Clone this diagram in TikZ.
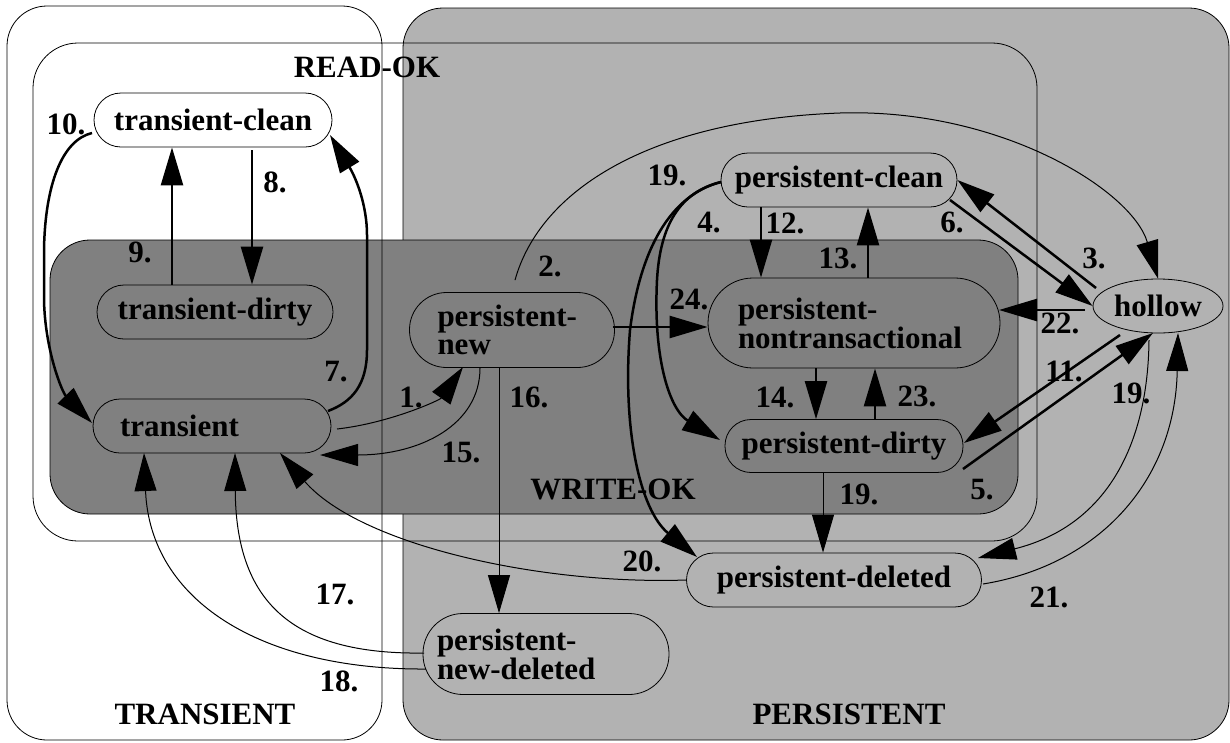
\documentclass[tikz,border=0pt]{standalone}
\usepackage{fontspec}
\setmainfont{Liberation Serif}
\usetikzlibrary{arrows.meta,shapes.geometric,calc}
\definecolor{lightg}{gray}{0.70}
\definecolor{darkg}{gray}{0.50}
\begin{document}
\begin{tikzpicture}[x=1pt,y=-1pt,
  every node/.style={font=\fontsize{31}{28}\selectfont\bfseries},
  stad/.style={draw, line width=0.8pt, inner sep=0pt},
  region/.style={draw, line width=0.8pt, rounded corners=40pt},
  tipstyle/.style={-{Triangle[length=38pt,width=22pt]}},
  fatarr/.style={line width=2.5pt, tipstyle},
  slimarr/.style={line width=1pt, tipstyle}]
\useasboundingbox (0,0) rectangle (1230,742);
\fill[white] (0,0) rectangle (1230,742);
% regions
\fill[white] (7,6) rectangle (382,740);
\draw[region, fill=lightg] (403,8) rectangle (1229,740);
\draw[region, rounded corners=45pt] (33,43) rectangle (1037,541);
\draw[region, fill=darkg] (50,240) rectangle (1018,514);
\draw[region] (7,6) rectangle (382,740);
\node (lro) at (367,67) {READ-OK};
\node (lwo) at (613,489) {WRITE-OK};
\node (ltr) at (205,714) {TRANSIENT};
\node (lpe) at (849,714) {PERSISTENT};
% states
\node[stad, fill=white, rounded corners=27pt, minimum width=238pt, minimum height=54pt] (tc) at (213,120) {transient-clean};
\node[stad, fill=darkg, rounded corners=27pt, minimum width=236pt, minimum height=54pt] (td) at (215,312) {transient-dirty};
\node[stad, fill=darkg, rounded corners=27pt, minimum width=238pt, minimum height=54pt, text width=184pt, align=left] (tr) at (212,426) {transient};
\node[stad, fill=darkg, rounded corners=37pt, minimum width=205pt, minimum height=75pt, text width=149pt, align=left] (pn) at (512,330) {persistent-\\new};
\node[stad, fill=lightg, rounded corners=27pt, minimum width=236pt, minimum height=54pt] (pc) at (839,180) {persistent-clean};
\node[stad, fill=darkg, rounded corners=45pt, minimum width=292pt, minimum height=90pt, text width=232pt, align=left] (pnt) at (854,323) {persistent-\\nontransactional};
\node[stad, fill=darkg, rounded corners=26pt, minimum width=238pt, minimum height=53pt] (pd) at (844,446) {persistent-dirty};
\node[stad, fill=lightg, ellipse, minimum width=130pt, minimum height=54pt] (ho) at (1158,306) {hollow};
\node[stad, fill=lightg, rounded corners=27pt, minimum width=295pt, minimum height=54pt] (pdl) at (834,580) {persistent-deleted};
\node[stad, fill=lightg, rounded corners=40pt, minimum width=246pt, minimum height=81pt, text width=218pt, align=left] (pnd) at (546,654) {persistent-\\new-deleted};
% transitions
\draw[fatarr] ([shift={(39,3)}]tc.south) -- ([shift={(37,0)}]td.north);
\draw[fatarr] ([shift={(-43,0)}]td.north) -- ([shift={(-41,0)}]tc.south);
\draw[fatarr] ([shift={(116,-15)}]tr.center) .. controls (352,402) and (367,385) .. (367,350) -- (367,235) .. controls (367,205) and (356,178) .. ([shift={(117,15)}]tc.center);
\draw[fatarr] ([shift={(-121,13)}]tc.center) .. controls (62,140) and (45,185) .. (44,250) -- (44,300) .. controls (45,350) and (62,392) .. ([shift={(-120,-3)}]tr.center);
\draw[slimarr] ([shift={(125,3)}]tr.center) .. controls (390,423) and (440,400) .. ([shift={(-49,37)}]pn.center);
\draw[slimarr] ([shift={(-32,38)}]pn.center) .. controls (480,425) and (420,455) .. ([shift={(108,29)}]tr.center);
\draw[slimarr] ([shift={(3,-12)}]pn.north) .. controls (540,190) and (650,120) .. (840,113) .. controls (1000,108) and (1132,190) .. (ho.north);
\draw[slimarr] ([shift={(-13,0)}]pn.south) -- ([shift={(-47,0)}]pnd.north);
\draw[slimarr] ([shift={(-122,-1)}]pnd.center) .. controls (290,655) and (236,600) .. ([shift={(23,27)}]tr.center);
\draw[slimarr] ([shift={(-120,15)}]pnd.center) .. controls (260,670) and (150,600) .. ([shift={(-68,27)}]tr.center);
\draw[slimarr] (pdl.west) .. controls (540,585) and (360,545) .. ([shift={(68,27)}]tr.center);
\draw[fatarr] ([shift={(-118,2)}]pc.center) .. controls (670,195) and (640,250) .. (630,330) .. controls (622,430) and (640,510) .. ([shift={(-137,-23)}]pdl.center);
\draw[fatarr] ([shift={(-118,2)}]pc.center) .. controls (680,192) and (660,225) .. (657,280) .. controls (653,360) and (670,410) .. ([shift={(-124,-6)}]pd.center);
\draw[fatarr] ([shift={(-78,0)}]pc.south) -- ([shift={(-93,0)}]pnt.north);
\draw[fatarr] ([shift={(14,0)}]pnt.north) -- ([shift={(29,0)}]pc.south);
\draw[fatarr] ([shift={(-38,0)}]pnt.south) -- ([shift={(-28,0)}]pd.north);
\draw[fatarr] ([shift={(31,0)}]pd.north) -- ([shift={(21,0)}]pnt.south);
\draw[fatarr] ([shift={(-2,-3)}]pn.east) -- ([shift={(0,4)}]pnt.west);
\draw[fatarr] ([shift={(-62,-18)}]ho.center) -- (pc.east);
\draw[fatarr] ([shift={(111,20)}]pc.center) -- (ho.west);
\draw[fatarr] ([shift={(-73,4)}]ho.center) -- ([shift={(145,-13)}]pnt.center);
\draw[fatarr] ([shift={(-38,29)}]ho.center) -- ([shift={(120,-3)}]pd.center);
\draw[fatarr] ([shift={(119,23)}]pd.center) -- ([shift={(-5,27)}]ho.center);
\draw[slimarr] ([shift={(-9,34)}]ho.center) .. controls (1148,440) and (1110,525) .. ([shift={(144,-22)}]pdl.center);
\draw[slimarr] ([shift={(149,4)}]pdl.center) .. controls (1100,565) and (1175,480) .. ([shift={(20,27)}]ho.center);
\draw[slimarr] ([shift={(-21,0)}]pd.south) -- ([shift={(-11,0)}]pdl.north);
% labels
\node (n10) at (66,124) {10.};
\node (n8) at (275,182) {8.};
\node (n9) at (140,252) {9.};
\node (n7) at (336,372) {7.};
\node (n1) at (411,397) {1.};
\node (n15) at (461,452) {15.};
\node (n2) at (550,266) {2.};
\node (n16) at (529,397) {16.};
\node (n19a) at (667,175) {19.};
\node (n4) at (709,223) {4.};
\node (n12) at (785,223) {12.};
\node (n13) at (838,258) {13.};
\node (n6) at (952,222) {6.};
\node (n3) at (1094,258) {3.};
\node (n24) at (689,299) {24.};
\node (n22) at (1060,323) {22.};
\node (n11) at (1064,371) {11.};
\node (n19b) at (1131,393) {19.};
\node (n14) at (775,397) {14.};
\node (n23) at (917,396) {23.};
\node (n5) at (982,490) {5.};
\node (n19c) at (859,494) {19.};
\node (n20) at (642,561) {20.};
\node (n21) at (1049,597) {21.};
\node (n17) at (335,594) {17.};
\node (n18) at (339,681) {18.};
\end{tikzpicture}
\end{document}
